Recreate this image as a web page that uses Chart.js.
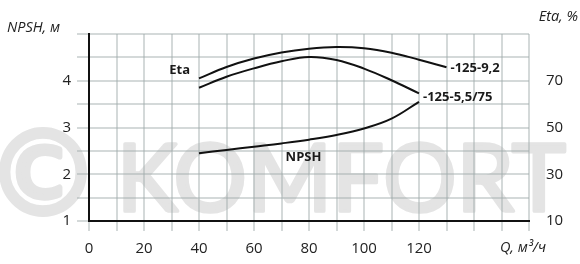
<!DOCTYPE html>
<html>
<head>
<meta charset="utf-8">
<script src="https://cdn.jsdelivr.net/npm/chart.js@4.4.1/dist/chart.umd.min.js"></script>
<style>
  html, body { margin: 0; padding: 0; background: #fff; }
  #wrap { width: 580px; height: 264px; position: relative; }
</style>
</head>
<body>
<div id="wrap"><canvas id="c" width="580" height="264"></canvas></div>
<script>
// ---- data ----
const flowQ = [40, 50, 60, 70, 80, 90, 100, 110, 120];
const npsh = [2.45, 2.52, 2.59, 2.66, 2.74, 2.84, 2.98, 3.19, 3.55];
const etaQ92 = [40, 50, 60, 70, 80, 90, 100, 110, 120, 130];
const eta92 = [71.0, 75.9, 79.5, 82.1, 83.7, 84.4, 83.9, 82.0, 79.0, 75.8];
const etaQ55 = [40, 50, 60, 70, 80, 90, 100, 110, 120];
const eta55 = [67.0, 71.7, 75.3, 78.3, 80.2, 78.9, 75.2, 70.2, 64.6];
const xTickLabels = [0, 20, 40, 60, 80, 100, 120];
const npshTickLabels = [1, 2, 3, 4];
const etaTickLabels = [10, 30, 50, 70];
const seriesNames = ['-125-9,2', '-125-5,5/75', 'NPSH', 'Eta'];
const axisTitles = { left: 'NPSH, м', right: 'Eta, %', bottom: 'Q, м³/ч' };
const watermarkMark = '©';
const watermarkWord = 'KOMFORT';

const pts = (xs, ys) => xs.map((x, i) => ({ x: x, y: ys[i] }));

const FONT = "'Open Sans', 'Noto Sans', sans-serif";

function fitText(ctx, text, font, box, strokeW) {
  ctx.save();
  ctx.font = font;
  const m = ctx.measureText(text);
  const w = m.actualBoundingBoxLeft + m.actualBoundingBoxRight;
  const h = m.actualBoundingBoxAscent + m.actualBoundingBoxDescent;
  const sx = (box.r - box.l) / w;
  const sy = (box.b - box.t) / h;
  ctx.translate(box.l, box.t);
  ctx.scale(sx, sy);
  ctx.textBaseline = 'alphabetic';
  ctx.textAlign = 'left';
  ctx.fillText(text, m.actualBoundingBoxLeft, m.actualBoundingBoxAscent);
  if (strokeW) {
    ctx.lineWidth = strokeW;
    ctx.lineJoin = 'round';
    ctx.strokeText(text, m.actualBoundingBoxLeft, m.actualBoundingBoxAscent);
  }
  ctx.restore();
}

const watermark = {
  id: 'watermark',
  beforeDraw(chart) {
    const ctx = chart.ctx;
    ctx.save();
    ctx.fillStyle = '#e4e4e4';
    ctx.strokeStyle = '#e4e4e4';
    fitText(ctx, watermarkMark, "100px 'DejaVu Sans'", { l: 1, r: 85, t: 130, b: 214 }, 5);
    fitText(ctx, watermarkWord, "100px 'Lato'", { l: 125, r: 565, t: 142, b: 212 }, 4);
    ctx.restore();
  }
};

const annotations = {
  id: 'annots',
  afterDraw(chart) {
    const ctx = chart.ctx;
    const xs = chart.scales.x, yl = chart.scales.y, yr = chart.scales.y2;
    ctx.save();
    ctx.fillStyle = '#1a1a1a';
    ctx.textBaseline = 'middle';
    // curve labels
    ctx.font = "bold 13px " + FONT;
    const e92end = { x: xs.getPixelForValue(etaQ92[etaQ92.length - 1]), y: yr.getPixelForValue(eta92[eta92.length - 1]) };
    ctx.textAlign = 'left';
    ctx.fillText(seriesNames[0], e92end.x + 4, e92end.y + 1);
    const e55end = { x: xs.getPixelForValue(etaQ55[etaQ55.length - 1]), y: yr.getPixelForValue(eta55[eta55.length - 1]) };
    const nEnd = { x: xs.getPixelForValue(flowQ[flowQ.length - 1]), y: yl.getPixelForValue(npsh[npsh.length - 1]) };
    ctx.fillText(seriesNames[1], Math.max(e55end.x, nEnd.x) + 4, (e55end.y + nEnd.y) / 2);
    const e92start = { x: xs.getPixelForValue(etaQ92[0]), y: yr.getPixelForValue(eta92[0]) };
    ctx.textAlign = 'right';
    ctx.fillText(seriesNames[3], e92start.x - 9, e92start.y - 8);
    ctx.textAlign = 'center';
    ctx.fillText(seriesNames[2], xs.getPixelForValue(78), yl.getPixelForValue(npsh[4]) + 18);
    // axis titles
    ctx.font = "italic 14.5px " + FONT;
    ctx.fillStyle = '#222';
    ctx.textAlign = 'left';
    ctx.fillText(axisTitles.left, 7, 28);
    ctx.textAlign = 'right';
    ctx.fillText(axisTitles.right, 578, 17);
    ctx.fillText(axisTitles.bottom, 546, 248);
    ctx.restore();
  }
};

const gridColor = 'rgba(160,170,170,0.45)';

new Chart(document.getElementById('c'), {
  type: 'line',
  data: {
    datasets: [
      { label: seriesNames[0], data: pts(etaQ92, eta92), yAxisID: 'y2' },
      { label: seriesNames[1], data: pts(etaQ55, eta55), yAxisID: 'y2' },
      { label: seriesNames[2], data: pts(flowQ, npsh), yAxisID: 'y' }
    ]
  },
  options: {
    responsive: false,
    animation: false,
    devicePixelRatio: 1,
    layout: { padding: { top: 34, left: 0, right: 0, bottom: 0 } },
    elements: {
      line: { borderColor: '#111', borderWidth: 2, tension: 0.4, fill: false },
      point: { radius: 0 }
    },
    plugins: { legend: { display: false }, tooltip: { enabled: false } },
    scales: {
      x: {
        type: 'linear', min: 0, max: 160,
        afterFit: s => { s.height = 43; },
        ticks: {
          stepSize: 10, autoSkip: false, maxRotation: 0, padding: 9,
          color: '#222', font: { family: FONT, size: 15 },
          callback: v => xTickLabels.includes(v) ? String(v) : ''
        },
        grid: { color: gridColor, lineWidth: 2, tickLength: 10, tickColor: gridColor },
        border: { color: '#111', width: 2 }
      },
      y: {
        position: 'left', min: 1, max: 5,
        afterFit: s => { s.width = 89; },
        ticks: {
          stepSize: 0.5, autoSkip: false, padding: 6,
          color: '#222', font: { family: FONT, size: 15 },
          callback: v => npshTickLabels.includes(v) ? String(v) : ''
        },
        grid: { color: gridColor, lineWidth: 2, tickLength: 12, tickColor: gridColor },
        border: { color: '#111', width: 2 }
      },
      y2: {
        position: 'right', min: 10, max: 90,
        afterFit: s => { s.width = 51; },
        ticks: {
          stepSize: 10, autoSkip: false, padding: 9,
          color: '#222', font: { family: FONT, size: 15 },
          callback: v => etaTickLabels.includes(v) ? String(v) : ''
        },
        grid: { display: false },
        border: { display: false }
      }
    }
  },
  plugins: [watermark, annotations]
});
</script>
</body>
</html>
